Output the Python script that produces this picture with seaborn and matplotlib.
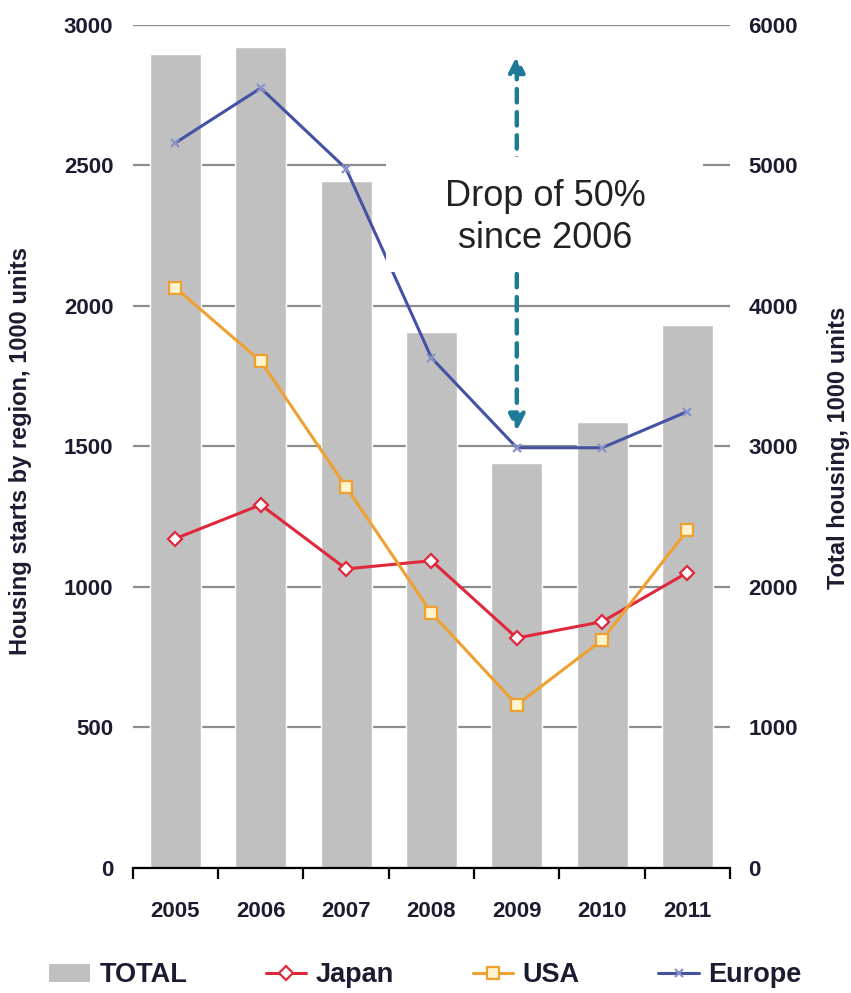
import numpy as np
import pandas as pd
import seaborn as sns
import matplotlib.pyplot as plt
from matplotlib.lines import Line2D
from matplotlib.patches import Patch, Rectangle

# values (1000 units)
years = ['2005', '2006', '2007', '2008', '2009', '2010', '2011']
total = [5790, 5845, 4885, 3815, 2885, 3170, 3865]
japan = [1172, 1292, 1064, 1093, 818, 876, 1051]
usa = [2064, 1803, 1356, 907, 580, 811, 1203]
europe = [2580, 2775, 2488, 1815, 1495, 1495, 1624]

sns.set_theme(style='white')
plt.rcParams['font.family'] = ['Liberation Sans', 'DejaVu Sans']

tick_color = '#1c1c30'
grid_color = '#8c8c8c'
bar_color = '#c0c0c0'
arrow_color = '#1f7a99'

fig = plt.figure(figsize=(8.51, 9.93), dpi=100)
ax = fig.add_axes([0.156, 0.126, 0.702, 0.849])
ax2 = ax.twinx()
ax.set_zorder(2)
ax2.set_zorder(1)
ax.patch.set_visible(False)

# Total bars on the right axis
df_total = pd.DataFrame({'year': years, 'total': total})
sns.barplot(data=df_total, x='year', y='total', color=bar_color, width=0.6,
            saturation=1, ax=ax2)

# Regional lines on the left axis
pos = np.arange(len(years))
series = [
    ('Japan', japan, '#e0283c', 'D', 'white', 7),
    ('USA', usa, '#f0a030', 's', '#fff4cc', 8),
    ('Europe', europe, '#4452a4', 'x', '#8890c8', 6),
]
for name, vals, color, marker, mfc, ms in series:
    mec = mfc if marker == 'x' else color
    sns.lineplot(x=pos, y=vals, ax=ax, color=color, lw=2.2, marker=marker,
                 markerfacecolor=mfc, markeredgecolor=mec, markersize=ms,
                 markeredgewidth=1.6)

ax.set_xlim(-0.5, len(years) - 0.5)
ax.set_ylim(0, 3000)
ax2.set_ylim(0, 6000)
ax.set_yticks(range(0, 3001, 500))
ax2.set_yticks(range(0, 6001, 1000))

# grid behind the bars
ax2.set_axisbelow(True)
ax2.yaxis.grid(True, color=grid_color, lw=1.6)
ax2.xaxis.grid(False)
ax.grid(False)

for a in (ax, ax2):
    for s in a.spines.values():
        s.set_visible(False)
ax.spines['bottom'].set_visible(True)
ax.spines['bottom'].set_color('black')
ax.spines['bottom'].set_linewidth(1.6)

ax.set_xticks(pos)
ax.set_xticklabels(years)
ax.set_xticks(np.arange(-0.5, len(years)), minor=True)
ax.tick_params(axis='x', which='major', length=0, pad=24, labelsize=16,
               labelcolor=tick_color)
ax.tick_params(axis='x', which='minor', length=8, width=1.6, color='black',
               direction='out', bottom=True)
for lab in ax.get_xticklabels():
    lab.set_fontweight('bold')

ax.tick_params(axis='y', length=0, pad=14, labelsize=16, labelcolor=tick_color)
ax2.tick_params(axis='y', length=0, pad=13, labelsize=16, labelcolor=tick_color)
ax2.tick_params(axis='x', length=0, labelbottom=False)
for lab in ax.get_yticklabels() + ax2.get_yticklabels():
    lab.set_fontweight('bold')

ax2.set_xlabel('')
ax.set_ylabel('Housing starts by region, 1000 units', fontsize=17,
              fontweight='bold', color=tick_color)
ax.yaxis.set_label_coords(-0.169, 0.494)
ax2.set_ylabel('Total housing, 1000 units', fontsize=17, fontweight='bold',
               color=tick_color, rotation=90)
ax2.yaxis.set_label_coords(1.162, 0.498)

# annotation: dashed double arrow at 2009 with the text box over it
i09 = years.index('2009')
ax.annotate('', xy=(i09, 2890), xytext=(i09, europe[i09] + 60),
            arrowprops=dict(arrowstyle='<|-|>,head_length=0.8,head_width=0.4',
                            color=arrow_color, lw=3.2,
                            linestyle=(0, (3, 2.2)),
                            shrinkA=0, shrinkB=0),
            zorder=3)
ax.add_patch(Rectangle((2.47, 2121), 3.71, 409, facecolor='white',
                       edgecolor='none', zorder=4))
ax.text(4.33, 2315, 'Drop of 50%\nsince 2006', ha='center', va='center',
        fontsize=26, linespacing=1.25, color='#222222', zorder=5)

# legend
handles = [Patch(facecolor=bar_color, edgecolor='none')]
labels = ['TOTAL']
for name, vals, color, marker, mfc, ms in series:
    mec = mfc if marker == 'x' else color
    handles.append(Line2D([], [], color=color, lw=2.2, marker=marker,
                          markerfacecolor=mfc, markeredgecolor=mec,
                          markersize=ms, markeredgewidth=1.6))
    labels.append(name)
fig.legend(handles, labels, loc='lower center', bbox_to_anchor=(0.5, -0.02),
           ncol=4, frameon=False, prop=dict(weight='bold', size=19.5),
           handlelength=1.5, handleheight=0.6, handletextpad=0.35,
           columnspacing=2.9, labelcolor=tick_color)

fig.savefig('out.png', dpi=100)
